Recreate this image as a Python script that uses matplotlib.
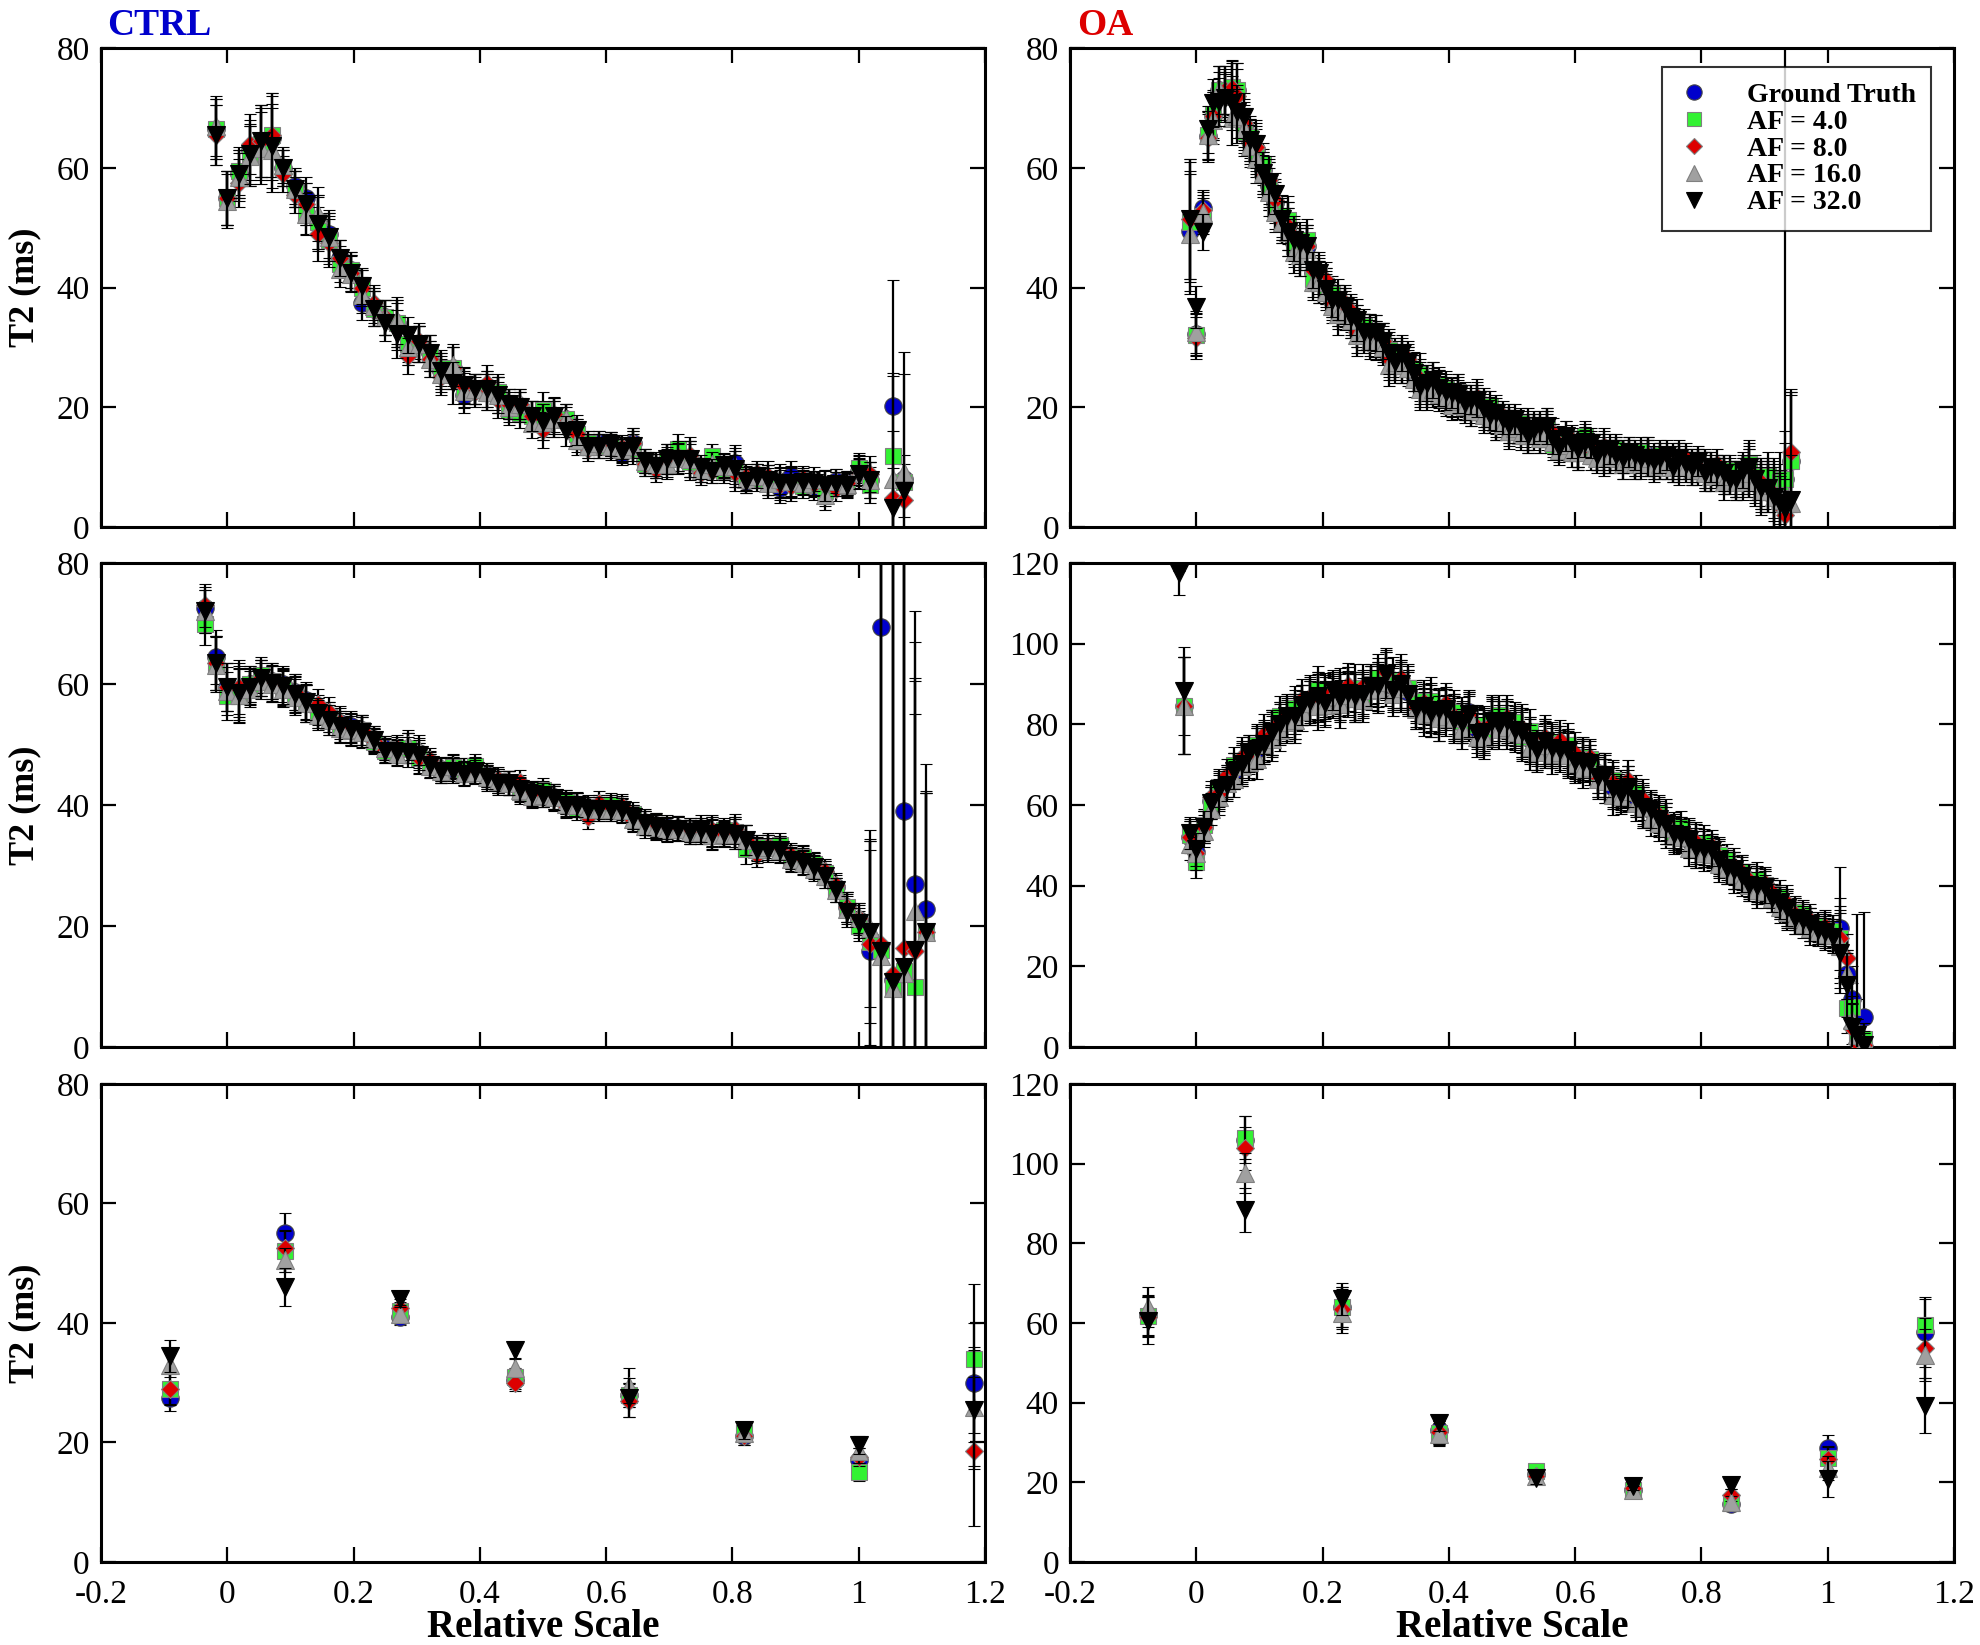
import numpy as np
import matplotlib
matplotlib.use('Agg')
import matplotlib.pyplot as plt
from matplotlib.lines import Line2D

plt.rcParams['font.family'] = ['Liberation Serif', 'DejaVu Serif']
plt.rcParams['axes.unicode_minus'] = False

# ---------------- data ----------------
series_labels = ['Ground Truth', 'AF = 4.0', 'AF = 8.0', 'AF = 16.0', 'AF = 32.0']
x_ticks = [-0.2, 0, 0.2, 0.4, 0.6, 0.8, 1, 1.2]
x_tick_labels = ['-0.2', '0', '0.2', '0.4', '0.6', '0.8', '1', '1.2']
y_ticks_80 = [0, 20, 40, 60, 80]
y_ticks_120 = [0, 20, 40, 60, 80, 100, 120]

# CTRL, top row
ctrl_top_x = [-0.018, 0, 0.018, 0.036, 0.054, 0.071, 0.089, 0.107, 0.125, 0.143,
              0.161, 0.179, 0.196, 0.214, 0.232, 0.25, 0.268, 0.286, 0.304, 0.321,
              0.339, 0.357, 0.375, 0.393, 0.411, 0.429, 0.446, 0.464, 0.482, 0.5,
              0.518, 0.536, 0.554, 0.571, 0.589, 0.607, 0.625, 0.643, 0.661, 0.679,
              0.696, 0.714, 0.732, 0.75, 0.768, 0.786, 0.804, 0.821, 0.839, 0.857,
              0.875, 0.893, 0.911, 0.929, 0.946, 0.964, 0.982, 1.0, 1.018]
ctrl_top_gt = [66.5, 55, 59, 63, 64.5, 65, 60, 57, 55, 51,
               49, 45, 43, 37.5, 36.5, 35, 34, 30, 30.5, 29,
               26, 26.5, 22, 23, 23, 22, 20.5, 20, 18.5, 18,
               18.5, 18, 15, 14, 14, 13.8, 12.4, 14, 11, 10.2,
               11.3, 11.8, 11.3, 9.6, 9.9, 9.9, 10.7, 7.7, 8.5, 7.9,
               6.6, 8.5, 7.9, 6.6, 7.1, 7.7, 7.4, 9.3, 7.9]
ctrl_top_d4 = [0, 0, 0.5, -1, -0.5, 0.5, 0, -0.5, -2.5, 0,
               -1, -1, 0, 2.5, 0, 0, 0, 0.5, 0, 0,
               0.5, 0, 1, 0, -0.5, 0.5, -1, -1, 0, 1.5,
               -0.5, 0, 0.5, 0, -0.5, 0, 0.5, -1, -0.5, 0,
               0, 1.2, -0.5, 0, 2, -0.5, -1, 0.5, -0.5, 0,
               1, -1, -1, 0.5, -1, -0.5, -0.5, 0.5, -0.8]
ctrl_top_d8 = [-1, 0, -1.5, 1, 0, 0.5, -1, -1.5, -1, -2,
               -1.5, 0, -0.5, 2.5, 1, 0, -0.5, -1.5, 0.5, -1,
               -1, 0, 1.5, -0.5, 1, -0.8, 0, 0.6, 0, -1.8,
               0.3, -0.5, 0.5, -1, -0.5, -0.6, 1, 0, -0.5, -0.6,
               -0.5, 0, 0.8, -0.5, -0.5, 0, -1.7, 0.8, 0.5, 0.6,
               0.5, -1.7, 0.3, 0.6, 0, -1.4, -0.1, -0.3, 0.9]
ctrl_top_d16 = [0.5, -0.5, -0.5, -1, -1.2, -2, 0.5, -0.5, -2.7, 1.3,
                -0.5, -1.9, -0.8, 1.2, 0.5, 0, 0.5, 0, 0, -1,
                -0.5, 0.5, 0.8, 0, -0.5, 0, -0.5, 0.5, -1.2, -0.5,
                -0.5, 0, -0.5, -0.5, 0, -0.3, 0.6, -0.5, 0, 0.3,
                -0.8, -0.3, 0, 0, 0.6, 0.3, -0.5, 0.3, 0, -0.5,
                1.5, -0.8, -0.6, 1.4, -1.7, 0, -0.2, 0.3, 0]
ctrl_top_d32 = [-1, 0, 0, -0.7, 0, -1.3, 0, -0.5, -1, -0.4,
                -0.5, 0, -0.5, 2.8, 0, -1, -1.7, 2, 0, 0,
                0, -2.5, 1.7, 0, 0, 0, 0, 0, 0, -0.5,
                0, -1.9, 1.2, -0.5, -0.5, 0, 0.3, -0.5, 0, 0,
                0, -0.5, 0, 0.5, -0.5, 0.5, -1, 0, 0, 0,
                0.8, -1.2, -0.3, 0.8, -0.3, -0.5, -0.3, -0.5, 0]
ctrl_top_err = [5, 4.5, 4, 5, 6, 7, 3, 3, 3.5, 4.5,
                4, 3, 3, 3, 3, 3, 4, 3, 3, 3,
                3, 3.5, 3, 2.5, 3, 3, 2.5, 2.5, 2.5, 3,
                3, 2.5, 2.5, 2, 2, 2, 2, 2.5, 2, 2,
                2.5, 2.5, 3, 2, 2, 2, 3, 2, 2, 2.5,
                2.5, 2.5, 2, 2, 2.5, 2, 2, 2.5, 3]
ctrl_top_tail_x = [1.054, 1.071]
ctrl_top_tail_vals = [[20.3, 8], [11.8, 7.5], [4.9, 4.6], [8, 9.2], [3.2, 6]]
ctrl_top_tail_errs = [[21, 4], [14, 3], [5, 3], [8, 20], [22, 19.5]]

# CTRL, middle row
ctrl_mid_x = [-0.036, -0.018, 0, 0.018, 0.036, 0.054, 0.071, 0.089, 0.107, 0.125,
              0.143, 0.161, 0.179, 0.196, 0.214, 0.232, 0.25, 0.268, 0.286, 0.304,
              0.321, 0.339, 0.357, 0.375, 0.393, 0.411, 0.429, 0.446, 0.464, 0.482,
              0.5, 0.518, 0.536, 0.554, 0.571, 0.589, 0.607, 0.625, 0.643, 0.661,
              0.679, 0.696, 0.714, 0.732, 0.75, 0.768, 0.786, 0.804, 0.821, 0.839,
              0.857, 0.875, 0.893, 0.911, 0.929, 0.946, 0.964, 0.982, 1.0]
ctrl_mid_gt = [72.5, 64.5, 59.5, 59, 60, 61, 60.5, 60, 58.7, 57.3,
               55.7, 54.6, 53.5, 53, 52.4, 51, 49.4, 49, 49.4, 48.6,
               47, 46, 46, 45.8, 46, 45, 44, 43.6, 43, 42,
               42, 41.4, 40.5, 40, 39.7, 39.7, 39.7, 39.5, 38, 37,
               36.7, 36.4, 36.2, 35.9, 35.9, 35.5, 35.5, 35.5, 34.2, 33,
               33, 32.9, 31.4, 30.9, 30, 28.8, 26.5, 23.1, 21]
ctrl_mid_d4 = [-2.5, -1, -1.5, -1, 0, 0.5, 0, -0.5, -0.5, -0.5,
               -0.5, 0, -0.5, -0.8, 0, -0.5, -0.5, 0.3, 0, -0.8,
               -0.5, 0, 0.3, 0, 0.5, -0.6, 0, 0, -0.8, -0.3,
               0.5, 0, 0, -0.5, -0.7, 0, 0.3, -0.5, 0.5, 0,
               0, -0.5, 0, 0, -0.3, 0, 0.3, 0, -1.5, 0,
               0, 0.5, 0, 0.5, 0.3, 0, -0.5, 0, -1]
ctrl_mid_d8 = [0.5, -1, 0, 0.5, -0.3, 0, -0.5, -0.7, 0, -0.5,
               1, 0.8, 0.3, -0.3, 0, -0.4, -0.3, 0.5, 0, -0.9,
               0.5, -0.3, 0, -0.5, -0.3, 0, 0.3, 0, 0.8, 0,
               -0.3, -0.3, -0.6, 0.2, -1.6, 0.6, 0, 0.3, -0.5, 0.3,
               -0.3, -0.3, 0, -0.3, 0.5, 0.3, -0.4, 0.6, 0, -1.2,
               0.3, 0, 0.4, 0.3, 0, 0.3, 0.3, 0, 0.3]
ctrl_mid_d16 = [-0.5, -1.3, -0.6, -0.8, -0.8, -0.5, -0.5, -0.8, -0.8, -0.5,
                -0.8, -0.6, -0.8, -0.5, -0.4, 0, 0, -0.5, 0.5, 0.5,
                -0.5, -0.3, 0.4, -0.5, -0.5, -0.3, 0, 0, -0.5, -0.5,
                -0.3, 0, -0.3, 0, -0.3, -0.4, -0.3, -0.3, -0.3, -0.5,
                -0.4, -0.3, -0.2, -0.3, -0.3, -0.5, -0.3, -0.3, 0, -0.3,
                0, -0.4, -0.3, -0.5, -0.5, -0.5, -0.5, -0.3, 0.3]
ctrl_mid_d32 = [-0.5, -1, 0, -0.5, -0.5, 0, -0.3, -0.3, -0.3, -0.3,
                -0.5, -0.5, -0.5, -0.5, -0.3, -0.3, -0.4, -0.3, -0.6, -0.3,
                -0.3, -0.3, -0.3, -0.6, -0.3, -0.3, -0.4, 0, -0.3, -0.2,
                -0.3, -0.2, -0.5, 0, -0.3, -0.3, -0.3, -0.3, 0, 0,
                -0.2, -0.3, -0.2, -0.3, 0, -0.3, -0.2, -0.3, 0, -0.5,
                -0.4, -0.3, -0.5, -0.3, -0.3, -0.5, -0.5, -0.7, -0.5]
ctrl_mid_err = [3.5, 4.5, 4, 4.5, 3, 3, 3, 3, 3, 3,
                2.5, 2.5, 2.5, 2.5, 2.5, 2, 2, 2, 2.5, 2.5,
                2, 2, 2, 2, 2, 2, 2, 2, 2, 2,
                2, 2, 2, 2, 2, 2, 2, 2, 2, 2,
                2, 2, 2, 2, 2, 2.5, 2, 2.5, 2.5, 2,
                2, 2, 2, 2, 2, 2, 2, 2.5, 2.5]
ctrl_mid_tail_x = [1.018, 1.036, 1.054, 1.071, 1.089, 1.107]
ctrl_mid_tail_vals = [[15.8, 69.5, 11, 39, 27, 22.8],
                      [17.4, 16, 10, 12.5, 10, 19],
                      [17, 17, 12, 16.4, 15.8, 19],
                      [19.6, 15.1, 9.7, 12.3, 22.5, 19],
                      [19, 15.8, 10.7, 13.2, 16, 19]]
ctrl_mid_tail_errs = [[20, 80, 80, 80, 45, 24],
                      [17, 80, 80, 80, 45, 23.4],
                      [17, 80, 80, 80, 44.7, 23],
                      [13, 80, 80, 80, 44.5, 23],
                      [15, 80, 80, 80, 45, 23]]

# CTRL, bottom row
ctrl_bot_x = [-0.091, 0.091, 0.273, 0.455, 0.636, 0.818, 1.0, 1.182]
ctrl_bot_vals = [[27.5, 55, 41, 30.5, 28, 21, 17, 30],
                 [29, 52, 42, 31, 28, 21.5, 15, 34],
                 [29, 52.5, 42.5, 30, 27, 21, 17.5, 18.5],
                 [33, 50.5, 41.5, 32.5, 29.5, 21.5, 18.5, 26],
                 [34.5, 46, 44, 35.5, 27.5, 22, 19.5, 25.5]]
ctrl_bot_errs = [[2.2, 3.4, 1.3, 1.5, 2, 1.5, 2, 10],
                 [2.8, 3.4, 1.5, 1.5, 2, 1.5, 1.5, 12.5],
                 [2.5, 3, 1.5, 1.4, 2.8, 1.5, 1.5, 12.5],
                 [2, 2, 1.5, 1.5, 2.9, 1.5, 2, 10],
                 [2.7, 3.2, 1.4, 1.3, 3.3, 1.5, 1.5, 10]]

# OA, top row
oa_top_x = [-0.01, 0, 0.01, 0.018, 0.027, 0.036, 0.046, 0.057, 0.065, 0.075,
            0.085, 0.095, 0.105, 0.115, 0.125, 0.135, 0.145, 0.155, 0.165, 0.175,
            0.185, 0.195, 0.205, 0.215, 0.225, 0.235, 0.245, 0.255, 0.265, 0.275,
            0.285, 0.295, 0.305, 0.315, 0.325, 0.335, 0.345, 0.355, 0.365, 0.375,
            0.385, 0.395, 0.405, 0.415, 0.425, 0.435, 0.445, 0.455, 0.465, 0.475,
            0.485, 0.495, 0.505, 0.515, 0.525, 0.535, 0.545, 0.555, 0.565, 0.575,
            0.585, 0.595, 0.605, 0.615, 0.625, 0.635, 0.645, 0.655, 0.665, 0.675,
            0.685, 0.695, 0.705, 0.715, 0.725, 0.735, 0.745, 0.755, 0.765, 0.775,
            0.785, 0.795, 0.805, 0.815, 0.825, 0.835, 0.845, 0.855, 0.865, 0.875,
            0.885, 0.895, 0.905, 0.915, 0.925]
oa_top_gt = [49.5, 32.2, 53.3, 65.3, 68.6, 73, 72.5, 73, 73, 67,
             64.7, 63, 59.7, 57, 54.2, 51.4, 50.3, 47.5, 46.4, 47,
             42.5, 41.4, 40.3, 38, 37, 36.4, 35.5, 33.6, 32.5, 32,
             31.4, 31, 28.6, 28, 28, 27, 25.8, 24.5, 23.6, 23.6,
             23.3, 22, 21.4, 22.5, 20.8, 20.3, 20.8, 19.7, 19.2, 18,
             17.5, 17, 17, 16.4, 15.8, 16.4, 15.8, 16.4, 14.7, 13.9,
             14.2, 13.6, 13, 14.7, 13, 12, 12.5, 12, 12.5, 11.5,
             12, 11, 11.5, 12, 10.5, 11.5, 11, 10.5, 11, 10.5,
             10, 10.5, 9.5, 9, 9.5, 8.5, 9, 8, 8.5, 9.5,
             8, 7, 7.5, 6, 5.5]
oa_top_d4 = [1.5, -0.2, -1.3, 0.2, 0.4, 0, 0.5, 0.5, 0, -1,
             0.5, -0.5, 1, 0, -1, 0.5, 1, -0.5, 0, 1,
             -1, 0.5, 0, 1, -0.5, 0.5, -1, 0, 1, 0.5,
             0, -0.5, 1, 0.5, -1, 0, 0.5, 1, -0.5, 0,
             0.5, 1, -0.5, 0, 0.5, -1, 0, 0.5, 1, -0.5,
             0, 0.5, -0.5, 1, 0, -0.5, 0.5, 0, -1, 0.5,
             1, 0, -0.5, 0.5, 0, 1, -0.5, 0, 0.5, -1,
             0.5, 0, 1, -0.5, 0, 0.5, -0.5, 1, 0, 0.5,
             -0.5, 0, 0.5, 1, -0.5, 0, 0.5, -0.5, 0, 1,
             0.5, 0, 1, 0.5, 2]
oa_top_d8 = [2, -0.7, -0.3, -0.3, 0, -1, 0.5, 0.3, -1, 0.5,
             -0.5, 0.5, -1, 1, 0.5, -0.5, 0, 1, -1, 0,
             0.5, -0.5, 1, -0.5, 0, 1, 0.5, -1, 0, -0.5,
             1, 0, -0.5, -1, 0.5, 1, 0, -0.5, 0.5, 1,
             -0.5, 0, 1, -1, 0, 0.5, 1, -0.5, 0, 0.5,
             1, -0.5, 0, -0.5, 1, 0.5, -1, 0.5, 1, 0,
             -0.5, 1, 0, -1, 0.5, 0, 1, -0.5, 0, 0.5,
             0, -0.5, 0.5, 0, 1, -1, 0.5, 0, -0.5, 1,
             0.5, -0.5, 0, -0.5, 1, 0.5, -1, 0, 0.5, -0.5,
             -1, 0.5, -1, -1.5, -2]
oa_top_d16 = [-0.5, 0.3, -0.8, 0.2, -0.6, 0, -0.5, -4.7, -4.4, -0.5,
              -1, -1.5, -0.5, -1, -1.5, -0.5, -1, -1.5, -1, -0.5,
              -1.5, -0.5, -1, -1, -1.5, -0.5, -1, -1.5, -0.5, -1,
              -0.5, -1, -1.5, -0.5, -1, -0.5, -1, -1.5, -1, -0.5,
              -1, -0.5, -1, -1.5, -0.5, -1, -0.5, -1, -1, -0.5,
              -0.5, -1, -0.5, -1, -0.5, -1, -1, -0.5, -0.5, -1,
              -0.5, -1, -0.5, -0.5, -1, -0.5, -1, -0.5, -0.5, -1,
              -0.5, -0.5, -1, -0.5, -0.5, -1, -0.5, -0.5, -1, -0.5,
              -0.5, -1, -0.5, -0.5, -0.5, -1, -0.5, -0.5, -1, -0.5,
              -0.5, -1, -0.5, -1, -1]
oa_top_d32 = [2, 4.5, -4, 1.1, 2.2, -2, -0.8, -2.2, -3.6, 1.5,
              0, 1, -0.5, 0.5, 1.5, 0, -1, 0.5, 1, 0,
              0.5, 1, -0.5, 0, 1, 0.5, -0.5, 1, 0, 0.5,
              1, 0, 0.5, -0.5, 1, 0.5, 0, -1, 0.5, 1,
              0, 0.5, 1, -0.5, 0, 1, 0.5, 0, -0.5, 1,
              0.5, 0, 1, 0.5, -0.5, 0, 1, 0.5, 0, -0.5,
              1, 0.5, 0, -0.5, 1, 0, 0.5, 1, -0.5, 0,
              0.5, 1, 0, -0.5, 0.5, 0, 1, -0.5, 0.5, 0,
              0, 0.5, -0.5, 1, 0, 0.5, -1, 0, 1, 0.5,
              0, -0.5, -1, -1, -1.5]
oa_top_err = [10, 3.5, 3, 4, 4, 4, 4, 4.5, 4.5, 4,
              3.5, 4, 3.5, 4, 3.5, 3.5, 4, 3.5, 3.5, 3.5,
              3, 3.5, 3, 3, 3.5, 3, 3, 3.5, 3, 3,
              3, 3, 3.5, 3, 3, 3, 3, 3.5, 3, 3,
              3, 3, 2.5, 3, 3, 2.5, 3, 3, 2.5, 3,
              2.5, 3, 2.5, 2.5, 3, 2.5, 2.5, 3, 2.5, 2.5,
              2.5, 2.5, 3, 2.5, 2.5, 2.5, 3, 2.5, 2.5, 2.5,
              2.5, 2.5, 2.5, 3, 2.5, 2.5, 2.5, 2.5, 3, 2.5,
              2.5, 2.5, 3, 2.5, 2.5, 3, 2.5, 3, 3, 4,
              3.5, 4, 4, 5, 5]
oa_top_tail_x = [0.932, 0.942]
oa_top_tail_vals = [[8, 11], [8, 11], [2, 12.5], [4, 4], [3, 4.5]]
oa_top_tail_errs = [[8, 11], [6, 12], [4, 10], [76, 8], [5, 18]]

# OA, middle row
oa_mid_x = [-0.01, 0, 0.012, 0.024, 0.036, 0.048, 0.06, 0.072, 0.084, 0.096, 0.108, 0.12, 0.132, 0.144,
            0.156, 0.168, 0.18, 0.192, 0.204, 0.216, 0.228, 0.24, 0.252, 0.264, 0.276, 0.288,
            0.3, 0.312, 0.324, 0.336, 0.348, 0.36, 0.372, 0.384, 0.396, 0.408, 0.42, 0.432,
            0.444, 0.456, 0.468, 0.48, 0.492, 0.504, 0.516, 0.528, 0.54, 0.552, 0.564, 0.576,
            0.588, 0.6, 0.612, 0.624, 0.636, 0.648, 0.66, 0.672, 0.684, 0.696, 0.708, 0.72,
            0.732, 0.744, 0.756, 0.768, 0.78, 0.792, 0.804, 0.816, 0.828, 0.84, 0.852, 0.864,
            0.876, 0.888, 0.9, 0.912, 0.924, 0.936, 0.948, 0.96, 0.972, 0.984, 0.996, 1.008]
oa_mid_gt = [52, 48.3,
             54.6, 61, 63.5, 66, 68.5, 70.8, 72.3, 74, 76.2, 78, 80.5, 81.5,
             83, 84.8, 86.3, 87, 86.3, 88, 87, 88.8, 87, 88, 89.6, 90.4,
             92, 89.6, 90, 88, 85.4, 84.6, 83.8, 83, 84.2, 82, 80.4, 83,
             78.8, 78, 81.3, 80.8, 80.4, 79.6, 78, 76.3, 74.6, 75.8, 74.6, 74.6,
             73.3, 72, 71.3, 70.4, 68, 67, 64.6, 63.8, 64.6, 62, 60.4, 58.8,
             57, 55.4, 53.8, 53, 51.3, 50.4, 49.6, 48.8, 47, 45.4, 43.8, 43,
             41.3, 40.4, 39.6, 38, 36.3, 34.6, 33, 32, 30.4, 29.6, 29.6, 28.8]
oa_mid_d4 = [0.5, -2.5,
             0.5, -0.5, 1, 0, 1.5, -1, 0.5, 1, -0.5, 0, 1.5, -0.5,
             1, 0, -1, 1.5, 0.5, -0.5, 1, 0, 2, -1, 0.5, 1,
             0, 1.5, -0.5, 1, 0.5, -1, 2, 0, -0.5, 1, 0.5, -1.5,
             1, 0.5, -0.5, 1.5, 0, 1, -1, 2, 0.5, -0.5, 1, 0,
             1.5, -0.5, 0.5, 1, 0, -1, 1.5, 0.5, 0, 1, -0.5, 0.5,
             1, 0, -0.5, 1.5, 0.5, 0, 1, -0.5, 0.5, 1, 0, 0.5,
             -0.5, 1, 0.5, 0, 1, -0.5, 0.5, 1, 0, 0.5, -0.5, 0]
oa_mid_d8 = [0, -0.3,
             0, 1, -0.5, 1.5, 0, 1, -1, 0.5, 1.5, -0.5, 0, 1,
             -1, 1.5, 0.5, -0.5, 1, -1.5, 0, 1, -0.5, 1.5, 0, -1,
             1, -0.5, 1.5, 0, -1, 1, 0.5, -1.5, 1, 0, 1.5, -0.5,
             0.5, 1, -1, 0, 1.5, -0.5, 1, 0, -1, 1, 0.5, 1.5,
             -0.5, 1, 0, 1.5, -1, 0.5, 1, -0.5, 1.5, 0, 1, -0.5,
             0.5, 1, -0.5, 0, 1, 0.5, -0.5, 1, 0, -0.5, 1, 0.5,
             0, -0.5, 1, 0.5, -0.5, 1, 0, 0.5, 1, -0.5, 0.5, -1]
oa_mid_d16 = [-1.6, -0.3,
              -1, -2, -1.5, -0.5, -2, -1, -1.5, -2.5, -1, -1.5, -2, -1,
              -2, -1.5, -1, -2.5, -1.5, -1, -2, -1.5, -0.5, -2, -1, -1.5,
              -1.5, -2, -1, 1.5, -1.5, -2, -1, -1.5, -2, -0.5, -1.5, -1,
              -2, -1, -1.5, -2, -1, -1.5, -0.5, -2, -1.5, -1, -2, -1.5,
              -1, -1.5, -2, -1, -1.5, -1, -2, -1.5, -1, -1.5, -1, -2,
              -1.5, -1, -1.5, -1, -2, -1, -1.5, -1, -1.5, -1, -1, -1.5,
              -1, -1.5, -1, -1, -1.5, -1, -1, -1.5, -1, -1, -1.5, -1]
oa_mid_d32 = [1, 0.7,
              0, -0.5, 0.5, -1, 0, -0.5, 0.5, 0, -1, 0, -0.5, 0.5,
              -1, 0, -0.5, 0, -1, 0.5, -0.5, -1, 0, -0.5, 0, -1,
              0.5, -1, 0, -0.5, -1.5, 0, -1, 0.5, -0.5, -1, 0, -0.5,
              -1, 0, -0.5, -1, 0.5, -1, 0, -0.5, -1, 0, -0.5, -1,
              0, -1, -0.5, 0, -1, 0.5, -0.5, -1, 0, -0.5, -1, 0,
              -0.5, 0, -1, -0.5, 0, -1, -0.5, 0, -0.5, -1, 0, -0.5,
              -1, -0.5, 0, -1, -0.5, 0, -1, -0.5, 0, -0.5, -1, -1.5]
oa_mid_err = [4, 4,
              4, 4, 4.5, 4, 4.5, 5, 4.5, 5, 5, 5.5, 5, 5,
              5.5, 5, 5.5, 6, 5.5, 5, 6, 5.5, 6, 5.5, 5, 6,
              6, 5.5, 6, 5.5, 5, 5.5, 6, 5.5, 5, 5.5, 5, 5.5,
              5, 5.5, 6, 5, 5.5, 5, 6, 5.5, 5, 5.5, 5, 5,
              5.5, 5, 5, 4.5, 5, 5.5, 5, 4.5, 5, 4.5, 5, 4.5,
              4.5, 5, 4.5, 4, 4.5, 5, 4.5, 4, 4.5, 4, 4.5, 4,
              4, 4.5, 4, 3.5, 4, 4.5, 4, 3.5, 4, 3.5, 4, 4]
oa_mid_head_x = [-0.028, -0.02]
oa_mid_head_vals = [[125, 84.6], [126, 84.6], [124, 84.6], [125, 84.6], [117.5, 88.3]]
oa_mid_head_errs = [[6, 12], [6, 12], [6, 12], [6, 12], [5.5, 11]]
oa_mid_tail_x = [1.02, 1.03, 1.038, 1.046, 1.057]
oa_mid_tail_vals = [[29.6, 18, 12, 6, 7.5],
                    [27, 9.6, 10, 3, 2],
                    [27, 22, 4.6, 1, 0.5],
                    [25, 18, 6.7, 3, 1],
                    [23.3, 15.4, 5, 3, 0.5]]
oa_mid_tail_errs = [[15, 6, 8, 6, 26],
                    [8, 6, 6, 4, 4],
                    [10, 6, 6, 4, 3],
                    [9, 6, 6, 4, 3],
                    [10, 8, 6, 30, 3]]

# OA, bottom row
oa_bot_x = [-0.077, 0.077, 0.231, 0.385, 0.538, 0.692, 0.846, 1.0, 1.154]
oa_bot_vals = [[62, 106, 64, 33, 22, 18, 14.5, 28.5, 57.7],
               [61.8, 106.5, 63.9, 32.3, 22.8, 18, 14.9, 26, 59.5],
               [61.5, 103.8, 63.5, 32.5, 21.5, 18.5, 16.8, 25.9, 53.7],
               [63.9, 97.6, 62.5, 32, 21.6, 18, 15, 23.5, 52],
               [60.6, 88.4, 66, 34.9, 21.1, 19, 19.2, 20.9, 39.2]]
oa_bot_errs = [[5, 5.9, 5, 3.5, 1.5, 1, 1.5, 3.3, 8.8],
               [5, 5.4, 5, 3, 1.5, 1, 1.5, 3, 6.5],
               [5, 5.5, 5, 3, 1.5, 1, 1.5, 3, 7.5],
               [5, 5, 5, 3, 1.5, 1, 1.5, 3, 6.5],
               [6, 5.5, 4, 2, 1.5, 1, 1, 4.5, 6.9]]

# ---------------- styles ----------------
markers = ['o', 's', 'D', '^', 'v']
marker_sizes = [12.5, 11.5, 9.5, 13, 13]
face_colors = ['#0000cc', '#33f233', '#dd0000', '#a0a0a0', '#000000']
edge_colors = ['#444444', '#808080', '#808080', '#808080', '#000000']


def draw(ax, x, vals_list, errs_list):
    for i in range(5):
        ax.errorbar(x, vals_list[i], yerr=errs_list[i], fmt=markers[i], ms=marker_sizes[i],
                    mfc=face_colors[i], mec=edge_colors[i], mew=0.8,
                    ecolor='black', elinewidth=1.6, capsize=4.5, capthick=1.6, zorder=2 + i)


def dense(ax, x, gt, offsets, err):
    gt = np.array(gt, dtype=float)
    vals = [gt] + [gt + np.array(d, dtype=float) for d in offsets]
    draw(ax, x, vals, [err] * 5)


def style_axes(ax, yticks, ymax, bottom_labels):
    ax.set_xlim(-0.2, 1.2)
    ax.set_ylim(0, ymax)
    ax.set_xticks(x_ticks)
    ax.set_xticklabels(x_tick_labels)
    ax.set_yticks(yticks)
    ax.tick_params(direction='in', top=True, right=True, length=11, width=1.6,
                   labelsize=24, labelbottom=bottom_labels)
    ax.tick_params(axis='x', pad=13)
    ax.tick_params(axis='y', pad=8)
    for s in ax.spines.values():
        s.set_linewidth(2.2)


fig = plt.figure(figsize=(19.8, 16.45), dpi=100)
lefts = [0.051, 0.5404]
bottoms = [0.6796, 0.3635, 0.0505]
heights = [0.2912, 0.2942, 0.2906]
w = 0.4465
axs = [[fig.add_axes([lefts[c], bottoms[r], w, heights[r]]) for c in range(2)] for r in range(3)]

# CTRL column
ax = axs[0][0]
dense(ax, ctrl_top_x, ctrl_top_gt, [ctrl_top_d4, ctrl_top_d8, ctrl_top_d16, ctrl_top_d32], ctrl_top_err)
draw(ax, ctrl_top_tail_x, ctrl_top_tail_vals, ctrl_top_tail_errs)
style_axes(ax, y_ticks_80, 80, False)

ax = axs[1][0]
dense(ax, ctrl_mid_x, ctrl_mid_gt, [ctrl_mid_d4, ctrl_mid_d8, ctrl_mid_d16, ctrl_mid_d32], ctrl_mid_err)
draw(ax, ctrl_mid_tail_x, ctrl_mid_tail_vals, ctrl_mid_tail_errs)
style_axes(ax, y_ticks_80, 80, False)

ax = axs[2][0]
draw(ax, ctrl_bot_x, ctrl_bot_vals, ctrl_bot_errs)
style_axes(ax, y_ticks_80, 80, True)

# OA column
ax = axs[0][1]
dense(ax, oa_top_x, oa_top_gt, [oa_top_d4, oa_top_d8, oa_top_d16, oa_top_d32], oa_top_err)
draw(ax, oa_top_tail_x, oa_top_tail_vals, oa_top_tail_errs)
style_axes(ax, y_ticks_80, 80, False)

ax = axs[1][1]
draw(ax, oa_mid_head_x, oa_mid_head_vals, oa_mid_head_errs)
dense(ax, oa_mid_x, oa_mid_gt, [oa_mid_d4, oa_mid_d8, oa_mid_d16, oa_mid_d32], oa_mid_err)
draw(ax, oa_mid_tail_x, oa_mid_tail_vals, oa_mid_tail_errs)
style_axes(ax, y_ticks_120, 120, False)

ax = axs[2][1]
draw(ax, oa_bot_x, oa_bot_vals, oa_bot_errs)
style_axes(ax, y_ticks_120, 120, True)

# labels
for r in range(3):
    axs[r][0].set_ylabel('T2 (ms)', fontsize=26, fontweight='bold')
    axs[r][0].yaxis.set_label_coords(-0.068, 0.5)
for c in range(2):
    axs[2][c].set_xlabel('Relative Scale', fontsize=28, fontweight='bold')
    axs[2][c].xaxis.set_label_coords(0.5, -0.098)

fig.text(0.054, 0.979, 'CTRL', color='#0000cc', fontsize=27, fontweight='bold', ha='left', va='baseline')
fig.text(0.544, 0.979, 'OA', color='#dd0000', fontsize=27, fontweight='bold', ha='left', va='baseline')

handles = [Line2D([], [], ls='none', marker=markers[i], ms=marker_sizes[i] - 1.5,
                  mfc=face_colors[i], mec=edge_colors[i], mew=0.8) for i in range(5)]
leg = axs[0][1].legend(handles, series_labels, loc='upper right', bbox_to_anchor=(0.974, 0.96),
                       borderaxespad=0, frameon=True, fancybox=False, edgecolor='black',
                       prop={'weight': 'bold', 'size': 20}, handlelength=1.2, handletextpad=1.3,
                       labelspacing=0.05, borderpad=0.55)
leg.get_frame().set_linewidth(1.5)

fig.savefig('out.png', dpi=100)
